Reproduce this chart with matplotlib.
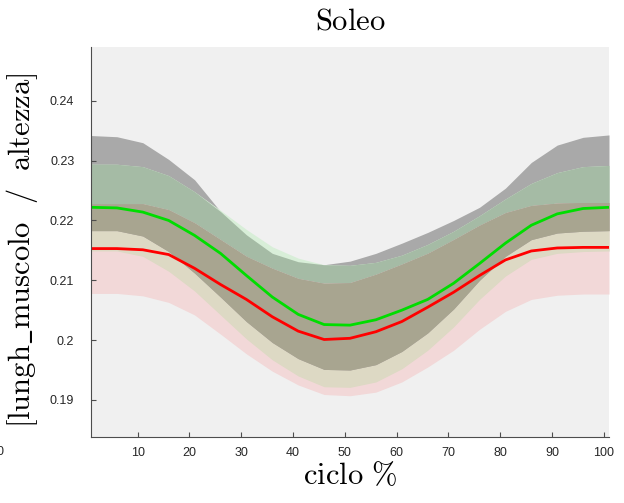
import numpy as np
import matplotlib
matplotlib.use("Agg")
import matplotlib.pyplot as plt

plt.rcParams["mathtext.fontset"] = "cm"
plt.rcParams["font.family"] = ["Liberation Sans", "DejaVu Sans"]

# gait cycle (%)
ciclo = [1, 6, 11, 16, 21, 26, 31, 36, 41, 46, 51, 56, 61, 66, 71, 76, 81, 86, 91, 96, 101]

# green group: mean curve and lower / upper edge of its band
verde_media = [0.2222, 0.2221, 0.2214, 0.2200, 0.2175, 0.2145, 0.2108, 0.2072, 0.2043, 0.2026, 0.2025,
               0.2034, 0.2050, 0.2068, 0.2095, 0.2128, 0.2162, 0.2192, 0.2211, 0.2220, 0.2222]
verde_inf = [0.2149, 0.2149, 0.2140, 0.2115, 0.2082, 0.2042, 0.2002, 0.1967, 0.1940, 0.1922, 0.1921,
             0.1930, 0.1952, 0.1983, 0.2022, 0.2068, 0.2107, 0.2135, 0.2145, 0.2148, 0.2149]
verde_sup = [0.2294, 0.2294, 0.2290, 0.2275, 0.2248, 0.2217, 0.2185, 0.2156, 0.2137, 0.2126, 0.2125,
             0.2130, 0.2142, 0.2160, 0.2182, 0.2208, 0.2236, 0.2262, 0.2280, 0.2290, 0.2292]

# red group: mean curve and lower / upper edge of its band
rosso_media = [0.2153, 0.2153, 0.2151, 0.2143, 0.2120, 0.2093, 0.2068, 0.2039, 0.2015, 0.2001, 0.2003,
               0.2014, 0.2031, 0.2055, 0.2080, 0.2108, 0.2134, 0.2149, 0.2154, 0.2155, 0.2155]
rosso_inf = [0.2078, 0.2078, 0.2074, 0.2063, 0.2042, 0.2010, 0.1977, 0.1948, 0.1925, 0.1909, 0.1907,
             0.1913, 0.1930, 0.1955, 0.1983, 0.2018, 0.2048, 0.2068, 0.2075, 0.2077, 0.2077]
rosso_sup = [0.2228, 0.2228, 0.2228, 0.2218, 0.2196, 0.2168, 0.2140, 0.2120, 0.2103, 0.2095, 0.2096,
             0.2110, 0.2127, 0.2145, 0.2168, 0.2192, 0.2213, 0.2225, 0.2229, 0.2230, 0.2230]

# reference band (grey): lower / upper edge
grigio_inf = [0.2183, 0.2183, 0.2174, 0.2148, 0.2112, 0.2072, 0.2031, 0.1996, 0.1969, 0.1951, 0.1950,
              0.1959, 0.1981, 0.2012, 0.2052, 0.2100, 0.2140, 0.2168, 0.2179, 0.2182, 0.2183]
grigio_sup = [0.2342, 0.2340, 0.2330, 0.2302, 0.2268, 0.2215, 0.2176, 0.2145, 0.2131, 0.2126, 0.2132,
              0.2145, 0.2162, 0.2180, 0.2200, 0.2222, 0.2254, 0.2297, 0.2326, 0.2339, 0.2343]

xticks = [10, 20, 30, 40, 50, 60, 70, 80, 90, 100]
yticks = [0.19, 0.20, 0.21, 0.22, 0.23, 0.24]
ytick_labels = ["0.19", "0.2", "0.21", "0.22", "0.23", "0.24"]

x = np.array(ciclo, dtype=float)
bands = {
    "g": (np.array(grigio_inf), np.array(grigio_sup)),
    "v": (np.array(verde_inf), np.array(verde_sup)),
    "r": (np.array(rosso_inf), np.array(rosso_sup)),
}

# colour of every overlap of the three shaded bands
colori = {
    ("g",): "#a9a9a9",
    ("v",): "#d8eed8",
    ("g", "v"): "#a5bba5",
    ("r",): "#f2d8d8",
    ("r", "v"): "#ddd9c4",
    ("g", "r"): "#aba0a0",
    ("g", "r", "v"): "#a8a590",
}
ordine = [("g",), ("v",), ("g", "v"), ("r",), ("r", "v"), ("g", "r"), ("g", "r", "v")]

fig = plt.figure(figsize=(6.24, 5.03), dpi=100)
ax = fig.add_axes([91 / 624, 1 - 437 / 503, (609 - 91) / 624, (437 - 47) / 503])
ax.set_facecolor("#f0f0f0")

for combo in ordine:
    lo = np.max([bands[k][0] for k in combo], axis=0)
    hi = np.min([bands[k][1] for k in combo], axis=0)
    ax.fill_between(x, lo, np.maximum(hi, lo), where=hi >= lo, interpolate=True,
                    color=colori[combo], lw=0, antialiased=True)

ax.plot(x, verde_media, color="#00dd00", lw=2.0, solid_capstyle="butt")
ax.plot(x, rosso_media, color="#ff0000", lw=2.0, solid_capstyle="butt")

ax.set_xlim(1, 101)
ax.set_ylim(0.1838, 0.249)
ax.set_xticks(xticks)
ax.set_xticklabels([str(t) for t in xticks])
ax.set_yticks(yticks)
ax.set_yticklabels(ytick_labels)
ax.tick_params(direction="in", length=3.5, width=0.8, colors="#4d4d4d",
               labelcolor="#262626", labelsize=9)
ax.tick_params(axis="x", pad=7)
ax.tick_params(axis="y", pad=12)
for s in ("top", "right"):
    ax.spines[s].set_visible(False)
for s in ("left", "bottom"):
    ax.spines[s].set_color("#4d4d4d")
    ax.spines[s].set_linewidth(0.8)

cx = (91 + 609) / 2 / 624
fig.text(cx, 1 - 22 / 503, r"$\mathrm{Soleo}$", ha="center", va="center", fontsize=22)
fig.text(cx, 1 - 476 / 503, r"$\mathrm{ciclo\ \%}$", ha="center", va="center", fontsize=22)
fig.text(22 / 624, 1 - 250 / 503, r"$[\mathrm{lungh\_muscolo\ \ /\ \ altezza}]$",
         ha="center", va="center", rotation=90, fontsize=22)
fig.text(0.0, 1 - 452 / 503, "0", ha="center", va="center", fontsize=9, color="#262626")

fig.savefig("out.png", dpi=100)
